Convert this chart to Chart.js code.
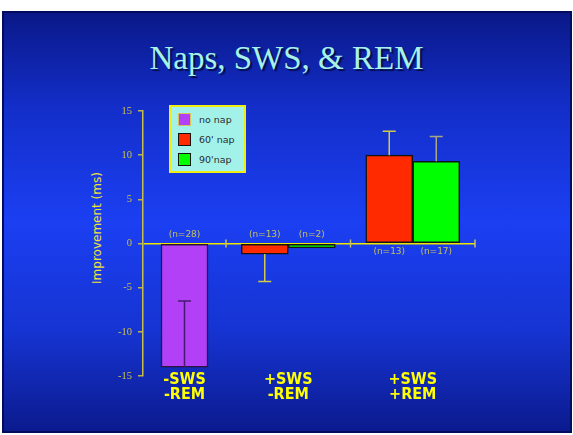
<!DOCTYPE html>
<html>
<head>
<meta charset="utf-8">
<title>Naps, SWS, & REM</title>
<script src="https://cdn.jsdelivr.net/npm/chart.js@4/dist/chart.umd.min.js"></script>
<style>
  html, body { margin: 0; padding: 0; background: #ffffff; }
  body { width: 573px; height: 435px; position: relative; overflow: hidden; }
  #slide {
    position: absolute; left: 2px; top: 11px; width: 566px; height: 418px;
    border: 2px solid #030b5e;
    background: linear-gradient(to bottom, #0a1888 0%, #132ec8 22%, #1b3ff2 50%, #1634d2 76%, #0b1a8e 100%);
  }
  #chart { position: absolute; left: 0; top: 0; }
  #title {
    position: absolute; left: 0; top: 42px; width: 573px; text-align: center;
    font: 33px/1 'Liberation Serif', 'DejaVu Serif', serif; color: #a6f2ea;
    text-shadow: 2px 2px 1px #050c45; white-space: nowrap;
  }
  #ytitle {
    position: absolute; left: 97px; top: 228px;
    transform: translate(-50%, -50%) rotate(-90deg);
    font: 12px 'DejaVu Sans', sans-serif; color: #eee235; white-space: nowrap;
  }
  #legend {
    position: absolute; left: 169px; top: 105px; width: 73px; height: 64px;
    border: 2px solid #eeee10; background: #a2f2ea;
  }
  #legend .item {
    position: absolute; left: 7px; height: 14px; display: flex; align-items: center;
    font: 9.5px 'DejaVu Sans', sans-serif; color: #2a2a2a; white-space: nowrap;
  }
  #legend .sw { width: 11px; height: 11px; margin-right: 8px; border: 1.5px solid #111; }
</style>
</head>
<body>
<div id="slide"></div>
<div id="title">Naps, SWS, &amp; REM</div>
<div id="ytitle">Improvement (ms)</div>
<canvas id="chart" width="573" height="435"></canvas>
<div id="legend"></div>
<script>
// Condition groups along the x axis
const categories = [['-SWS', '-REM'], ['+SWS', '-REM'], ['+SWS', '+REM']];
const seriesNames = ['no nap', "60' nap", "90'nap"];

// Mean improvement (ms) per group
const noNap = [-14, null, null];
const nap60 = [null, -1.2, 10];
const nap90 = [null, -0.5, 9.3];

// Error bar end points (ms)
const noNapErr = [-6.5, null, null];
const nap60Err = [null, -4.3, 12.7];
const nap90Err = [null, null, 12.1];

// Group sizes
const noNapN = [28, null, null];
const nap60N = [null, 13, 13];
const nap90N = [null, 2, 17];

// Value axis ticks
const yTicks = [-15, -10, -5, 0, 5, 10, 15];

// Relative width each group takes on the x axis
const groupSpan = [2, 3, 3];
const groupEdges = groupSpan.reduce((a, s) => { a.push(a[a.length - 1] + s); return a; }, [0]);
const groupCenters = groupSpan.map((s, i) => groupEdges[i] + s / 2);

const toPoints = vals => vals.map((v, i) => ({ x: groupCenters[i], y: v }));

const annotate = {
  id: 'annotate',
  afterDatasetsDraw(chart) {
    const { ctx, scales: { x, y } } = chart;
    const zero = y.getPixelForValue(0);
    ctx.save();
    // group separators on the zero line
    ctx.strokeStyle = '#c8c060';
    ctx.lineWidth = 1.5;
    groupEdges.slice(1).forEach(v => {
      const px = x.getPixelForValue(v);
      ctx.beginPath(); ctx.moveTo(px, zero - 4); ctx.lineTo(px, zero + 4); ctx.stroke();
    });
    chart.data.datasets.forEach((ds, di) => {
      const meta = chart.getDatasetMeta(di);
      ds.data.forEach((pt, i) => {
        if (pt.y == null) return;
        const bar = meta.data[i];
        const errTo = ds.errorTo[i];
        if (errTo != null) {
          const ey = y.getPixelForValue(errTo);
          ctx.strokeStyle = ds.errorColor;
          ctx.lineWidth = 1.5;
          ctx.beginPath();
          ctx.moveTo(bar.x, bar.y); ctx.lineTo(bar.x, ey);
          ctx.moveTo(bar.x - 6.5, ey); ctx.lineTo(bar.x + 6.5, ey);
          ctx.stroke();
        }
        const n = ds.counts[i];
        if (n != null) {
          ctx.fillStyle = '#c9c25a';
          ctx.font = '9px "DejaVu Sans", sans-serif';
          ctx.textAlign = 'center';
          ctx.textBaseline = 'middle';
          ctx.fillText('(n=' + n + ')', bar.x, pt.y < 0 ? zero - 9 : zero + 8);
        }
      });
    });
    ctx.restore();
  }
};

const chart = new Chart(document.getElementById('chart'), {
  type: 'bar',
  data: {
    datasets: [
      { label: seriesNames[0], data: toPoints(noNap), errorTo: noNapErr, counts: noNapN, stack: 's0',
        backgroundColor: '#b240f6', borderColor: '#2a163c', errorColor: '#4a1a72', legendBorder: '#d8c25a' },
      { label: seriesNames[1], data: toPoints(nap60), errorTo: nap60Err, counts: nap60N, stack: 's1',
        backgroundColor: '#ff2a00', borderColor: '#141414', errorColor: '#d2ca46', legendBorder: '#141414' },
      { label: seriesNames[2], data: toPoints(nap90), errorTo: nap90Err, counts: nap90N, stack: 's2',
        backgroundColor: '#00ff00', borderColor: '#141414', errorColor: '#aaa684', legendBorder: '#141414' }
    ]
  },
  options: {
    responsive: false,
    animation: false,
    events: [],
    layout: { padding: { left: 0, top: 111, right: 98, bottom: 59 } },
    datasets: { bar: { barThickness: 47, borderWidth: 1.5, borderSkipped: false, skipNull: true } },
    plugins: { legend: { display: false }, tooltip: { enabled: false } },
    scales: {
      x: {
        type: 'linear',
        position: { y: -15 },
        offset: false,
        min: groupEdges[0],
        max: groupEdges[groupEdges.length - 1],
        grid: { display: false, drawTicks: false, offset: false },
        border: { display: false },
        afterBuildTicks: s => { s.ticks = groupCenters.map(v => ({ value: v })); },
        afterFit: s => { s.paddingLeft = 0; s.paddingRight = 0; },
        ticks: {
          autoSkip: false,
          maxRotation: 0,
          padding: -4,
          color: '#ffff00',
          font: { family: '"Liberation Sans Narrow", "DejaVu Sans Condensed", sans-serif', size: 16, weight: 'bold', lineHeight: '15px' },
          callback: (v, i) => categories[i]
        }
      },
      y: {
        min: yTicks[0],
        max: yTicks[yTicks.length - 1],
        afterBuildTicks: s => { s.ticks = yTicks.map(v => ({ value: v })); },
        afterFit: s => { s.width = 143; s.paddingTop = 0; s.paddingBottom = 0; },
        grid: {
          drawOnChartArea: true,
          color: c => (c.tick && c.tick.value === 0) ? '#efe600' : 'rgba(0,0,0,0)',
          lineWidth: 1.5,
          tickColor: '#bdb450',
          tickLength: 5,
          tickWidth: 1.5
        },
        border: { display: true, color: '#c8bf48', width: 1.5 },
        ticks: {
          padding: 6,
          color: '#cdc24a',
          font: { family: '"Liberation Serif", "DejaVu Serif", serif', size: 10.5 }
        }
      }
    }
  },
  plugins: [annotate]
});

// Legend built from the chart's datasets
const legend = document.getElementById('legend');
chart.data.datasets.forEach((ds, i) => {
  const item = document.createElement('div');
  item.className = 'item';
  item.style.top = (5 + i * 20) + 'px';
  const sw = document.createElement('span');
  sw.className = 'sw';
  sw.style.background = ds.backgroundColor;
  sw.style.borderColor = ds.legendBorder;
  item.appendChild(sw);
  item.appendChild(document.createTextNode(ds.label));
  legend.appendChild(item);
});
</script>
</body>
</html>
